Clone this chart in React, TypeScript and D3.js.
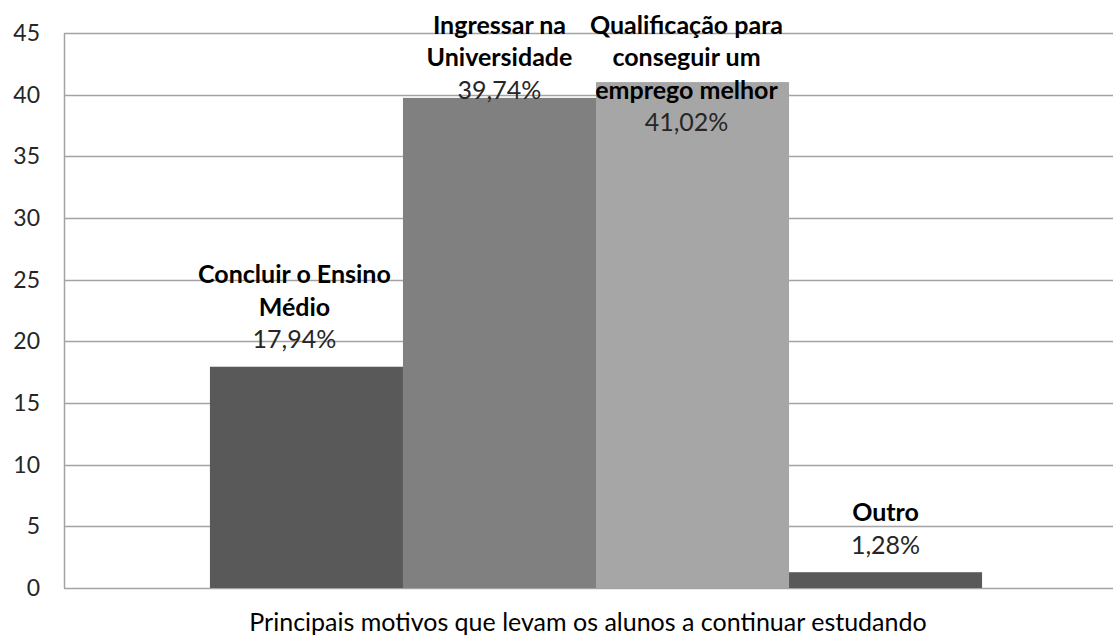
import React, { useEffect, useRef } from 'react';
import * as d3 from 'd3';

// data
const categories = ['Principais motivos que levam os alunos a continuar estudando'];
const seriesNames = [
  ['Concluir o Ensino', 'Médio'],
  ['Ingressar na', 'Universidade'],
  ['Qualificação para', 'conseguir um', 'emprego melhor'],
  ['Outro'],
];
const seriesValues = [17.94, 39.74, 41.02, 1.28];
const valueLabels = ['17,94%', '39,74%', '41,02%', '1,28%'];
const yTicks = [0, 5, 10, 15, 20, 25, 30, 35, 40, 45];
const colors = ['#595959', '#808080', '#a6a6a6', '#595959'];

const App = () => {
  const svgRef = useRef<SVGSVGElement>(null);

  useEffect(() => {
    const width = 1113;
    const height = 636;
    const left = 64;
    const right = 1128; // plot area runs off the right edge in the original
    const top = 33;
    const bottom = 588;
    const font = "Lato, 'Open Sans', sans-serif";
    // labels were nudged by hand in the original
    const labelShift = [-12, 0, -6, 0];

    const svg = d3.select(svgRef.current);
    svg.selectAll('*').remove();
    svg.attr('width', width).attr('height', height);

    svg.append('rect').attr('width', width).attr('height', height).attr('fill', '#fff');

    const y = d3.scaleLinear().domain([0, 45]).range([bottom, top]);
    const x0 = d3.scaleBand().domain(categories).range([left, right]).paddingOuter(0.189);
    const x1 = d3.scaleBand()
      .domain(seriesValues.map((_, i) => String(i)))
      .range([0, x0.bandwidth()]);

    // gridlines
    svg.append('g').selectAll('line')
      .data(yTicks)
      .enter()
      .append('line')
      .attr('x1', left)
      .attr('x2', width)
      .attr('y1', d => Math.round(y(d)) + 0.5)
      .attr('y2', d => Math.round(y(d)) + 0.5)
      .attr('stroke', '#a3a3a3')
      .attr('stroke-width', 1.5);

    // y axis line
    svg.append('line')
      .attr('x1', left + 0.5).attr('x2', left + 0.5)
      .attr('y1', top).attr('y2', bottom)
      .attr('stroke', '#a3a3a3')
      .attr('stroke-width', 1.5);

    // tick labels
    svg.append('g').selectAll('text')
      .data(yTicks)
      .enter()
      .append('text')
      .attr('x', 40)
      .attr('y', d => y(d))
      .attr('dy', '0.35em')
      .attr('text-anchor', 'end')
      .attr('font-family', font)
      .attr('font-size', 23)
      .attr('fill', '#262626')
      .text(d => d);

    const cat = categories[0];
    const bx = (i: number) => (x0(cat) as number) + (x1(String(i)) as number);

    // bars
    svg.append('g').selectAll('rect')
      .data(seriesValues)
      .enter()
      .append('rect')
      .attr('x', (_, i) => bx(i))
      .attr('y', d => y(d))
      .attr('width', x1.bandwidth())
      .attr('height', d => bottom - y(d))
      .attr('fill', (_, i) => colors[i]);

    // data labels: name lines (bold) then value, stacked above the bar, kept inside the top
    const lineH = 32.5;
    seriesValues.forEach((v, i) => {
      const lines = seriesNames[i];
      const n = lines.length + 1;
      const start = Math.max(25, y(v) - 27 - (n - 1) * lineH);
      const cx = bx(i) + x1.bandwidth() / 2 + labelShift[i];
      const g = svg.append('g');
      lines.forEach((t, j) => {
        g.append('text')
          .attr('x', cx)
          .attr('y', start + j * lineH)
          .attr('dy', '0.35em')
          .attr('text-anchor', 'middle')
          .attr('font-family', font)
          .attr('font-weight', 'bold')
          .attr('font-size', 25)
          .attr('fill', '#000')
          .text(t);
      });
      g.append('text')
        .attr('x', cx)
        .attr('y', start + lines.length * lineH)
        .attr('dy', '0.35em')
        .attr('text-anchor', 'middle')
        .attr('font-family', font)
        .attr('font-size', 25)
        .attr('fill', '#262626')
        .text(valueLabels[i]);
    });

    // category axis title
    svg.append('text')
      .attr('x', 588)
      .attr('y', 622)
      .attr('dy', '0.35em')
      .attr('text-anchor', 'middle')
      .attr('font-family', font)
      .attr('font-size', 25)
      .attr('fill', '#000')
      .text(cat);
  }, []);

  return (
    <div style={{ position: 'absolute', left: 0, top: 0 }}>
      <svg ref={svgRef} style={{ display: 'block' }}></svg>
    </div>
  );
};

export default App;
